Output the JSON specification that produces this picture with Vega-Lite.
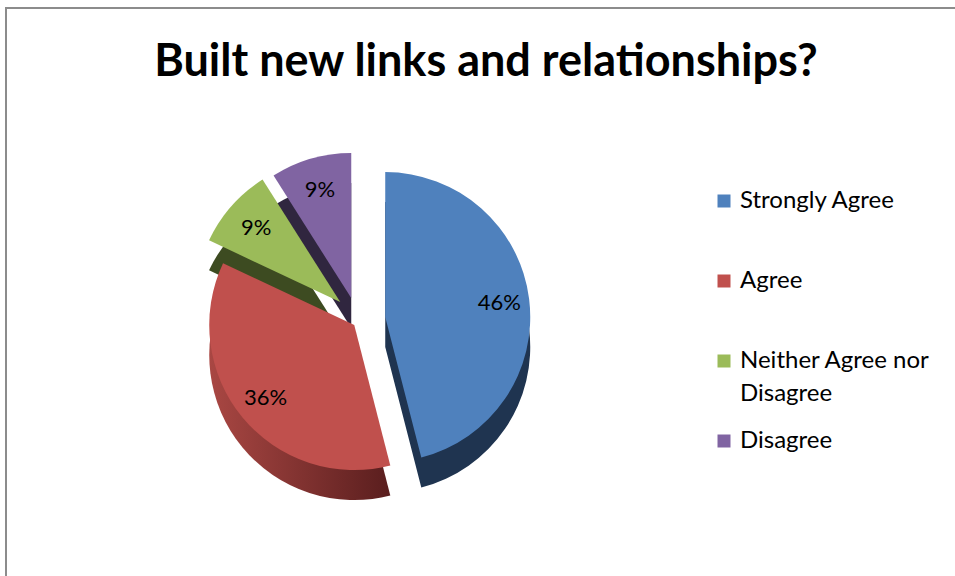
{
  "$schema": "https://vega.github.io/schema/vega-lite/v6.json",
  "width": 960,
  "height": 580,
  "autosize": {"type": "none"},
  "padding": {"left": 6, "top": 8, "right": 0, "bottom": 0},
  "background": "white",
  "config": {
    "view": {"stroke": "#8c8c8c", "strokeWidth": 2},
    "font": "Lato",
    "legend": {
      "symbolType": "square",
      "symbolSize": 169,
      "symbolStrokeWidth": 0,
      "labelFontSize": 24,
      "labelFont": "Lato",
      "labelColor": "black",
      "rowPadding": 23,
      "labelOffset": 4,
      "gridAlign": "all",
      "labelLimit": 400
    }
  },
  "title": {
    "text": "Built new links and relationships?",
    "fontSize": 45,
    "font": "Lato",
    "fontWeight": "bold",
    "color": "black",
    "anchor": "middle",
    "frame": "group",
    "offset": -122,
    "baseline": "bottom"
  },
  "data": {
    "values": [
      {"category": "Strongly Agree", "value": 46, "order": 1, "label": "46%"},
      {"category": "Agree", "value": 36, "order": 2, "label": "36%"},
      {"category": "Neither Agree nor Disagree", "value": 9, "order": 3, "label": "9%"},
      {"category": "Disagree", "value": 9, "order": 4, "label": "9%"}
    ]
  },
  "transform": [
    {"stack": "value", "groupby": [], "sort": [{"field": "order", "order": "ascending"}], "as": ["v0", "v1"]},
    {"calculate": "(datum.v0 + datum.v1) / 2", "as": "mid"}
  ],
  "encoding": {
    "x": {"datum": 0.369, "type": "quantitative", "scale": {"domain": [0, 1]}, "axis": null},
    "y": {"datum": 0.538, "type": "quantitative", "scale": {"domain": [0, 1], "reverse": true}, "axis": null}
  },
  "layer": [
    {
      "transform": [{"filter": "datum.order == 1"}],
      "mark": {"type": "arc", "radius": 145, "color": "#1F3450", "xOffset": 25, "yOffset": 27},
      "encoding": {
        "theta": {"field": "v0", "type": "quantitative", "scale": {"domain": [0, 100]}, "stack": null},
        "theta2": {"field": "v1"}
      }
    },
    {
      "transform": [{"filter": "datum.order == 2"}],
      "mark": {"type": "arc", "radius": 145, "xOffset": -6, "yOffset": 35,
        "color": {"gradient": "linear", "x1": 0, "x2": 1, "y1": 0, "y2": 0,
          "stops": [{"offset": 0, "color": "#A94743"}, {"offset": 1, "color": "#5A1E1E"}]}},
      "encoding": {
        "theta": {"field": "v0", "type": "quantitative", "scale": {"domain": [0, 100]}, "stack": null},
        "theta2": {"field": "v1"}
      }
    },
    {
      "transform": [{"filter": "datum.order == 3"}],
      "mark": {"type": "arc", "radius": 145, "color": "#3D4B21", "xOffset": -20, "yOffset": 12},
      "encoding": {
        "theta": {"field": "v0", "type": "quantitative", "scale": {"domain": [0, 100]}, "stack": null},
        "theta2": {"field": "v1"}
      }
    },
    {
      "transform": [{"filter": "datum.order == 4"}],
      "mark": {"type": "arc", "radius": 145, "color": "#30263F", "xOffset": -9, "yOffset": 8},
      "encoding": {
        "theta": {"field": "v0", "type": "quantitative", "scale": {"domain": [0, 100]}, "stack": null},
        "theta2": {"field": "v1"}
      }
    },
    {
      "transform": [{"filter": "datum.order == 1"}],
      "layer": [
        {
          "mark": {"type": "arc", "radius": 145, "xOffset": 25, "yOffset": -3},
          "encoding": {
            "theta": {"field": "v0", "type": "quantitative", "scale": {"domain": [0, 100]}, "stack": null},
            "theta2": {"field": "v1"},
            "color": {"field": "category", "type": "nominal",
              "scale": {"domain": ["Strongly Agree", "Agree", "Neither Agree nor Disagree", "Disagree"], "range": ["#4F81BD", "#C0504D", "#9BBB59", "#8064A2"]},
              "legend": {"orient": "none", "legendX": 706, "legendY": 181, "title": null, "labelExpr": "datum.label == 'Neither Agree nor Disagree' ? ['Neither Agree nor', 'Disagree'] : datum.label",
                "encode": {"labels": {"update": {"lineHeight": {"value": 33}}}}}}
          }
        },
        {
          "mark": {"type": "text", "radius": 115, "xOffset": 25, "yOffset": -3, "fontSize": 22, "font": "Lato", "color": "black"},
          "encoding": {
            "theta": {"field": "mid", "type": "quantitative", "scale": {"domain": [0, 100]}, "stack": null},
            "text": {"field": "label"}
          }
        }
      ]
    },
    {
      "transform": [{"filter": "datum.order == 2"}],
      "layer": [
        {
          "mark": {"type": "arc", "radius": 145, "xOffset": -6, "yOffset": 5},
          "encoding": {
            "theta": {"field": "v0", "type": "quantitative", "scale": {"domain": [0, 100]}, "stack": null},
            "theta2": {"field": "v1"},
            "color": {"field": "category", "type": "nominal",
              "scale": {"domain": ["Strongly Agree", "Agree", "Neither Agree nor Disagree", "Disagree"], "range": ["#4F81BD", "#C0504D", "#9BBB59", "#8064A2"]},
              "legend": {"orient": "none", "legendX": 706, "legendY": 181, "title": null, "labelExpr": "datum.label == 'Neither Agree nor Disagree' ? ['Neither Agree nor', 'Disagree'] : datum.label",
                "encode": {"labels": {"update": {"lineHeight": {"value": 33}}}}}}
          }
        },
        {
          "mark": {"type": "text", "radius": 115, "xOffset": -6, "yOffset": 5, "fontSize": 22, "font": "Lato", "color": "black"},
          "encoding": {
            "theta": {"field": "mid", "type": "quantitative", "scale": {"domain": [0, 100]}, "stack": null},
            "text": {"field": "label"}
          }
        }
      ]
    },
    {
      "transform": [{"filter": "datum.order == 3"}],
      "layer": [
        {
          "mark": {"type": "arc", "radius": 145, "xOffset": -20, "yOffset": -18},
          "encoding": {
            "theta": {"field": "v0", "type": "quantitative", "scale": {"domain": [0, 100]}, "stack": null},
            "theta2": {"field": "v1"},
            "color": {"field": "category", "type": "nominal",
              "scale": {"domain": ["Strongly Agree", "Agree", "Neither Agree nor Disagree", "Disagree"], "range": ["#4F81BD", "#C0504D", "#9BBB59", "#8064A2"]},
              "legend": {"orient": "none", "legendX": 706, "legendY": 181, "title": null, "labelExpr": "datum.label == 'Neither Agree nor Disagree' ? ['Neither Agree nor', 'Disagree'] : datum.label",
                "encode": {"labels": {"update": {"lineHeight": {"value": 33}}}}}}
          }
        },
        {
          "mark": {"type": "text", "radius": 112, "xOffset": -20, "yOffset": -18, "fontSize": 22, "font": "Lato", "color": "black"},
          "encoding": {
            "theta": {"field": "mid", "type": "quantitative", "scale": {"domain": [0, 100]}, "stack": null},
            "text": {"field": "label"}
          }
        }
      ]
    },
    {
      "transform": [{"filter": "datum.order == 4"}],
      "layer": [
        {
          "mark": {"type": "arc", "radius": 145, "xOffset": -9, "yOffset": -22},
          "encoding": {
            "theta": {"field": "v0", "type": "quantitative", "scale": {"domain": [0, 100]}, "stack": null},
            "theta2": {"field": "v1"},
            "color": {"field": "category", "type": "nominal",
              "scale": {"domain": ["Strongly Agree", "Agree", "Neither Agree nor Disagree", "Disagree"], "range": ["#4F81BD", "#C0504D", "#9BBB59", "#8064A2"]},
              "legend": {"orient": "none", "legendX": 706, "legendY": 181, "title": null, "labelExpr": "datum.label == 'Neither Agree nor Disagree' ? ['Neither Agree nor', 'Disagree'] : datum.label",
                "encode": {"labels": {"update": {"lineHeight": {"value": 33}}}}}}
          }
        },
        {
          "mark": {"type": "text", "radius": 112, "xOffset": -9, "yOffset": -22, "fontSize": 22, "font": "Lato", "color": "black"},
          "encoding": {
            "theta": {"field": "mid", "type": "quantitative", "scale": {"domain": [0, 100]}, "stack": null},
            "text": {"field": "label"}
          }
        }
      ]
    }
  ]
}
